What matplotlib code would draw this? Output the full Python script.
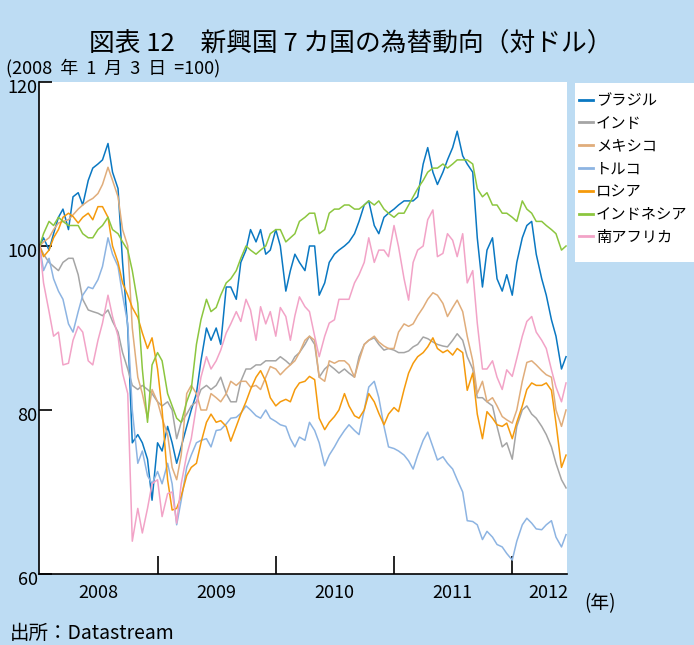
import matplotlib
matplotlib.use("Agg")
import matplotlib.pyplot as plt
import pandas as pd
from matplotlib.patches import Rectangle
from matplotlib.transforms import ScaledTranslation

plt.rcParams['font.family'] = ['Noto Sans CJK JP', 'DejaVu Sans']

# semi-monthly observation dates (base = 2008-01-03)
dates = pd.DatetimeIndex(['2008-01-03']).append(
    pd.date_range('2008-01-15', '2012-06-15', freq='SMS'))

brazil = [
    100, 101, 99.5, 101.5, 103.5, 104.5, 102, 106, 106.5, 105, 108, 109.5, 110, 110.5, 112.5, 109, 107, 98, 90, 76, 77, 76, 74, 69,
    76, 75, 78, 76, 73.5, 75.5, 78, 80, 82, 86, 90, 88.5, 90, 88, 95, 95, 93.5, 98, 99.5, 102, 100.5, 102, 99, 99.5,
    102, 100, 94.5, 97, 99, 98, 97, 100, 100, 94, 95.5, 98, 99, 99.5, 100, 100.5, 101.5, 103, 105, 105.5, 102.5, 101.5, 103.5, 104,
    104.5, 105, 105.5, 105.5, 105.5, 106, 110, 112, 109, 107.5, 109, 110.5, 112, 114, 111, 110, 109, 101, 95, 99.5, 101, 96, 94.5, 96.5,
    94, 98, 101, 102.5, 103, 99, 96, 94, 91, 89, 85, 86.5]
india = [
    100, 99, 98, 97.5, 97, 98, 98.5, 98.5, 96.5, 93.5, 92.2, 92, 91.8, 91.5, 92.2, 90.8, 89.5, 87, 85, 83, 82.5, 83, 82.5, 82,
    81, 80.5, 81, 80, 76.5, 78.5, 79.5, 80.5, 81, 82.5, 83, 82.5, 83, 84, 82, 81, 81, 83.5, 85, 85, 85.5, 85.5, 86, 86,
    86, 86.5, 86, 85.5, 86.5, 87, 88, 89, 88, 84, 85, 85.5, 85, 84.5, 85, 84.5, 84, 86.5, 88, 88.5, 88.8, 88, 87.3, 87.5,
    87.3, 87, 87, 87.2, 87.7, 88, 88.9, 88.7, 88.3, 88, 87.8, 87.7, 88.5, 89.3, 88.5, 86.5, 85, 81.5, 81.5, 81, 80.5, 78, 75.5, 76,
    74, 78, 80, 80.5, 79.5, 79, 78, 77, 75.5, 73.5, 71.5, 70.5]
mexico = [
    100, 100.5, 101, 102, 102.8, 103, 103.2, 103.8, 104.5, 105, 105.5, 105.8, 106.4, 107.5, 109.6, 108, 106, 102, 100, 90, 84, 82, 79, 82.5,
    81, 79, 77, 73, 71.5, 74.5, 82, 83, 82, 80, 80, 82, 81.5, 81, 82, 83.5, 83, 83.5, 83.5, 82.8, 83, 82.5, 84, 85.3,
    85, 84.3, 85, 85.5, 86, 87, 88.5, 89, 88.5, 84, 83.5, 86, 85.7, 86, 86, 85.5, 84, 86, 88, 88.5, 89, 88.3, 87.8, 87.5,
    87.5, 89.5, 90.5, 90.2, 90.5, 91.5, 92.5, 93.5, 94.3, 94, 93, 91.4, 92.5, 93.4, 92, 89, 86, 82, 83.5, 81, 81.5, 80.5, 79.2, 78.8,
    78.4, 80, 83.5, 85.8, 86, 85.5, 84.8, 84.3, 84, 80, 78, 80]
turkey = [
    100, 97, 98.5, 96, 94.5, 93.5, 90.5, 89.5, 92, 94, 95, 94.8, 95.9, 97.5, 101, 99, 97.5, 94, 90.5, 80, 73.5, 75, 72, 71,
    72.5, 71, 73.5, 71, 66, 69, 73, 74.5, 76, 76.3, 76.5, 75.5, 77.5, 77.6, 78.3, 79, 79.1, 79.6, 80.5, 80, 79.3, 79, 80, 79,
    78.6, 78.2, 78, 76.5, 75.5, 76.7, 76.3, 78.5, 77.5, 76, 73.2, 74.5, 75.5, 76.5, 77.5, 78.2, 77.5, 77, 80, 82.8, 83.5, 81.5, 78, 75.5,
    75.3, 75, 74.5, 73.8, 72.8, 74.5, 76.3, 77.3, 75.5, 73.9, 74.3, 73.5, 72.8, 71.5, 70, 66.5, 66.4, 66, 64.2, 65.2, 64.5, 63.6, 63.3, 62.5,
    61.7, 64, 66, 66.8, 66.2, 65.5, 65.4, 66, 66.5, 64.5, 63.3, 64.8]
russia = [
    100, 98.7, 99.5, 101, 102, 103.5, 104, 103.6, 102.8, 103.5, 104, 103.2, 104.8, 104.8, 103.5, 100, 98, 95.5, 94, 92.5, 91.3, 89.4, 87.5, 88.8,
    85, 80, 71.5, 67.8, 68, 69.5, 72, 73, 73.5, 76, 78.5, 79.5, 78.5, 78.7, 78, 76.2, 78, 79.5, 81, 82.5, 84, 84.8, 83.5, 81.5,
    80.5, 81, 81.3, 81, 82.5, 83.3, 83.5, 84.1, 83.7, 79, 77.6, 78.5, 79.2, 80, 82, 80.5, 79.3, 79, 80, 82, 81, 79.6, 78.2, 79.5,
    80.3, 79.8, 82.5, 84.5, 85.7, 86.5, 87, 87.7, 88.8, 87.5, 87, 87.3, 86.7, 87.5, 87, 82.4, 84.5, 79.5, 76.5, 79.8, 79, 78.2, 78, 78.4,
    76.5, 78.5, 80.5, 82.5, 83.3, 83, 83, 83.3, 82.4, 78.4, 73, 74.5]
indonesia = [
    100, 101.5, 103, 102.5, 103.5, 103, 102.5, 102.5, 102.5, 101.5, 101, 101, 102, 102.5, 103.5, 102, 101.5, 100.5, 99.5, 97, 93, 85, 78.5, 85.5,
    87, 86, 82, 80.5, 79, 78.5, 81, 82.5, 88, 91, 93.5, 92, 92.5, 94, 95.5, 96, 97, 98.5, 100, 99.5, 99, 99.5, 100, 101.5,
    102, 102, 100.5, 101, 101.5, 103, 103.5, 104, 104, 101.5, 102, 104, 104.5, 104.5, 105, 105, 104.5, 104.5, 105, 105.5, 105, 105.5, 104.5, 104,
    103.5, 104, 104, 105, 106, 107, 108, 109, 109.5, 109.5, 110, 109.5, 110, 110.5, 110.5, 110.5, 110, 107, 106, 106.5, 105, 105, 104, 104,
    103.5, 103, 105.5, 104.5, 104, 103, 103, 102.5, 102, 101.5, 99.5, 100]
south_africa = [
    100, 95.5, 92, 89, 89.5, 85.5, 85.7, 88.5, 90.2, 89.5, 86, 85.5, 88.5, 90.6, 94, 91.4, 89, 84.5, 82, 64, 68, 65, 68, 71,
    71.5, 67, 69.8, 70, 66.2, 71, 74.5, 76.5, 80.5, 84, 86.5, 85, 86, 87.3, 89.4, 90.5, 92, 90.8, 93.5, 92.2, 88.5, 92.6, 90.5, 92,
    89, 92.5, 91.4, 88.5, 91.5, 93.8, 92.6, 92, 89, 86.5, 89, 90.6, 91, 93.5, 93.5, 93.5, 95.5, 96.5, 98, 101, 98, 99.5, 99.5, 98.7,
    102.5, 99.9, 96, 93.4, 98, 99.5, 100, 103.2, 104.4, 98.7, 99.1, 101.5, 100.7, 98.7, 101.5, 95.5, 97, 90.6, 85, 85, 86, 84, 82.5, 84.9,
    84.1, 86.3, 89, 90.8, 91.4, 89.5, 88.5, 87.5, 84.9, 82.8, 81, 83.3]

series_names = ['ブラジル', 'インド', 'メキシコ', 'トルコ', 'ロシア', 'インドネシア', '南アフリカ']
series_values = [brazil, india, mexico, turkey, russia, indonesia, south_africa]
series_colors = ['#0A78C2', '#A5A5A5', '#E0AD7B', '#8DB4E2', '#F59A0C', '#8CC63F', '#F2A3C7']

year_labels = ['2008', '2009', '2010', '2011', '2012']
year_label_dates = ['2008-07-01', '2009-07-01', '2010-07-01', '2011-07-01', '2012-04-20']
year_tick_dates = ['2009-01-01', '2010-01-01', '2011-01-01', '2012-01-01']

BG = '#BDDCF3'

fig = plt.figure(figsize=(6.94, 6.45), dpi=100, facecolor=BG)
ax = fig.add_axes([39 / 694, 1 - 574 / 645, 528 / 694, 492 / 645])
ax.set_facecolor('white')

handles = []
for name, vals, col in zip(series_names, series_values, series_colors):
    assert len(vals) == len(dates), (name, len(vals))
    h, = ax.plot(dates, vals, color=col, lw=1.1, label=name)
    handles.append(h)

ax.set_xlim(pd.Timestamp('2008-01-01'), pd.Timestamp('2012-06-18'))
ax.set_ylim(60, 120)
ax.set_yticks([60, 80, 100, 120])
ax.set_yticklabels(['60', '80', '100', '120'])
for s in ['top', 'right']:
    ax.spines[s].set_visible(False)
for s in ['left', 'bottom']:
    ax.spines[s].set_color('black')
    ax.spines[s].set_linewidth(1.2)

ax.tick_params(axis='y', direction='in', length=9, width=1.2, pad=1, labelsize=13)
shift = ScaledTranslation(0, -4 / 100, fig.dpi_scale_trans)
for lab in ax.get_yticklabels():
    lab.set_transform(lab.get_transform() + shift)
ax.set_xticks(pd.to_datetime(year_tick_dates))
ax.set_xticklabels([''] * len(year_tick_dates))
ax.set_xticks(pd.to_datetime(year_label_dates), minor=True)
ax.set_xticklabels(year_labels, minor=True)
ax.tick_params(axis='x', which='major', direction='in', length=13, width=1.2)
ax.tick_params(axis='x', which='minor', length=0, pad=7, labelsize=13)

# titles and notes
fig.text(0.505, 1 - 45 / 645, '図表 12　新興国 7 カ国の為替動向（対ドル）',
         ha='center', va='center', fontsize=18.5)
fig.text(6 / 694, 1 - 68 / 645, '(2008  年  1  月  3  日  =100)', ha='left', va='center', fontsize=13)
fig.text(600 / 694, 1 - 604 / 645, '(年)', ha='center', va='center', fontsize=13.5)
fig.text(10 / 694, 1 - 633 / 645, '出所：Datastream', ha='left', va='center', fontsize=14)

# legend box
fig.patches.append(Rectangle((575 / 694, 1 - 262 / 645), 1 - 575 / 694, (262 - 83) / 645,
                             transform=fig.transFigure, facecolor='white', edgecolor='none', zorder=0))
leg = fig.legend(handles, series_names, loc='upper left', bbox_to_anchor=(579 / 694, 1 - 92 / 645),
                 frameon=False, fontsize=11, handlelength=0.9, handletextpad=0.2,
                 labelspacing=0.38, borderaxespad=0, borderpad=0)
for ln in leg.get_lines():
    ln.set_linewidth(2)

fig.savefig('out.png', dpi=100, facecolor=BG)
